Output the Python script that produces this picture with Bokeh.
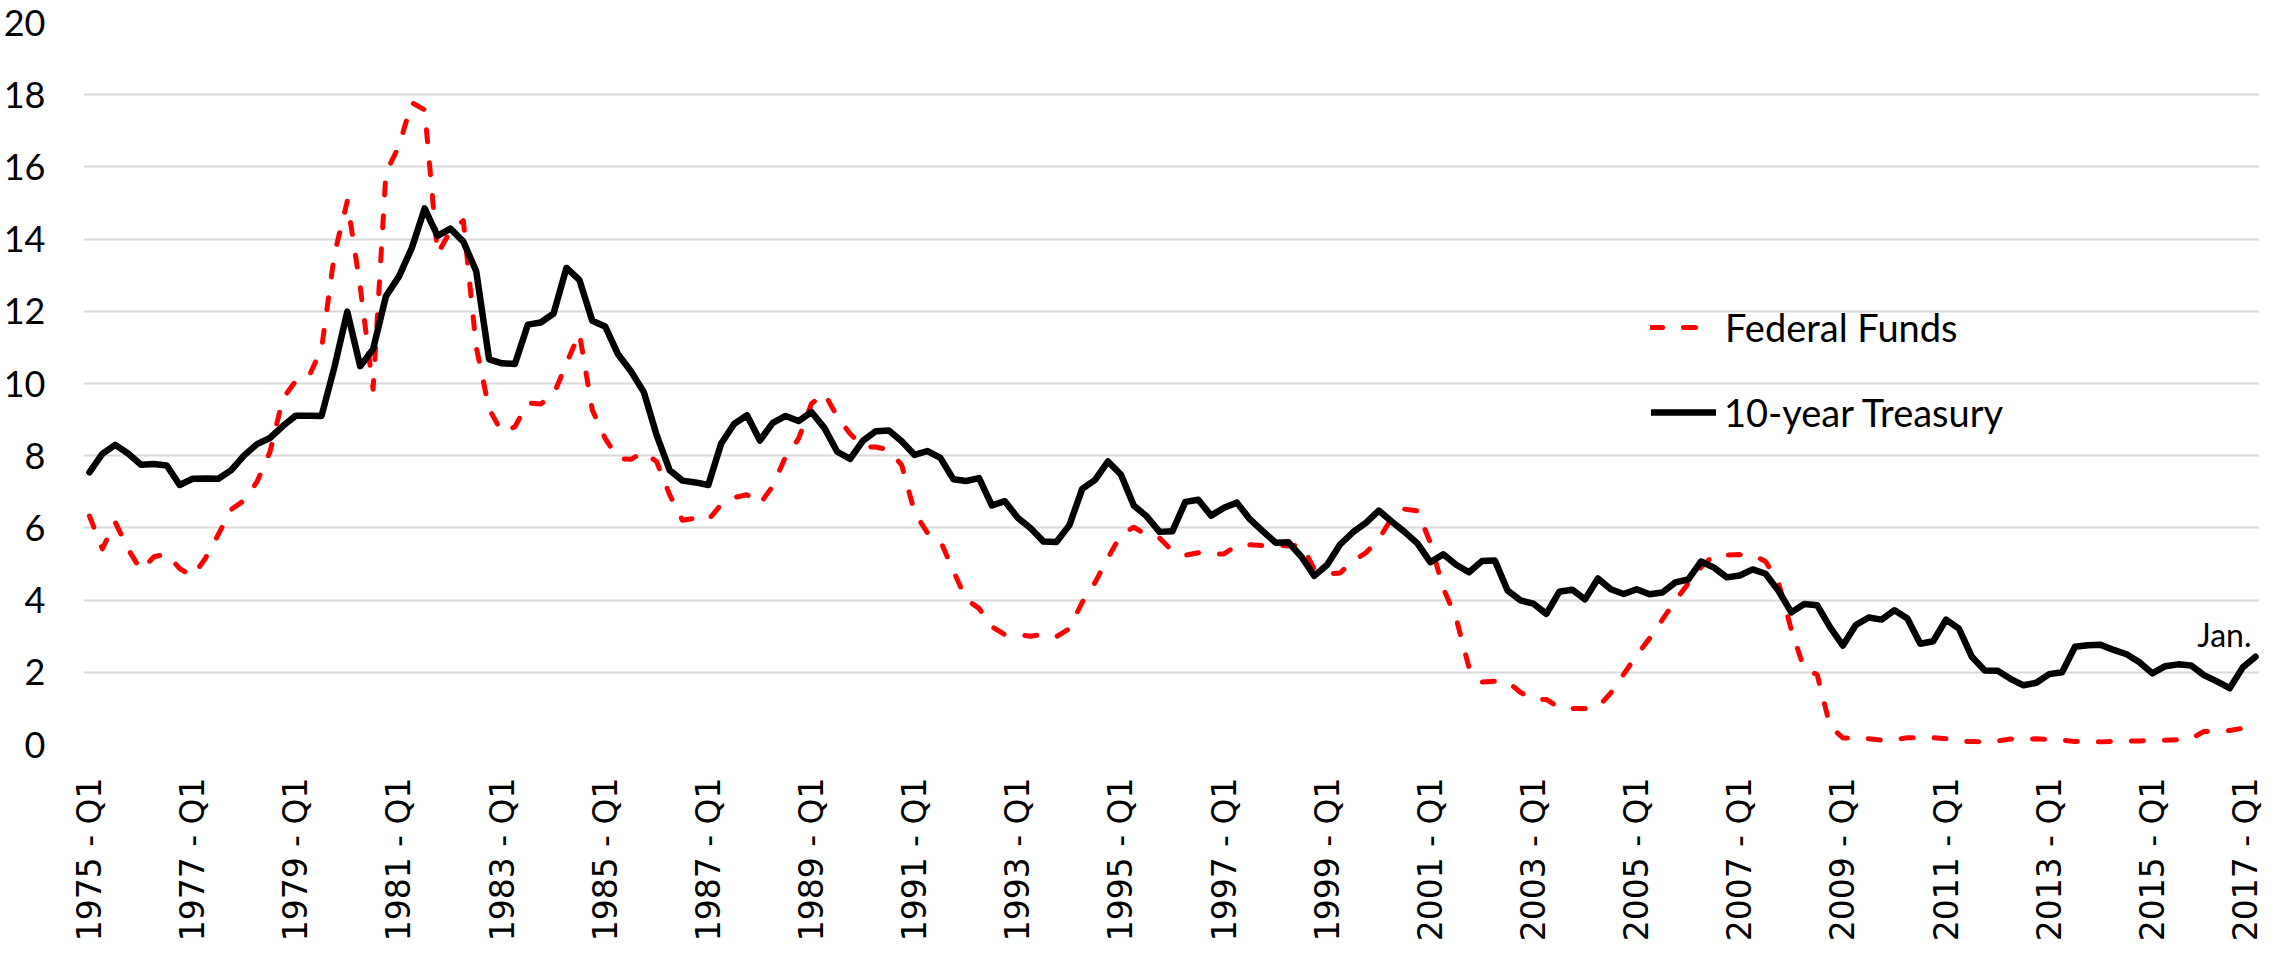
import math
from bokeh.plotting import figure
from bokeh.models import (Range1d, FixedTicker, Legend, LegendItem, Label,
                          ColumnDataSource)
from bokeh.embed import file_html
from bokeh.resources import INLINE

# ---------------- data ----------------
quarters = [f"{y} - Q{q}" for y in range(1975, 2017) for q in (1, 2, 3, 4)] + ["2017 - Q1"]

fed_funds = [
    6.33, 5.42, 6.16, 5.41,   # 1975
    4.83, 5.20, 5.28, 4.87,   # 1976
    4.66, 5.16, 5.82, 6.51,   # 1977
    6.76, 7.28, 8.10, 9.58,   # 1978
    10.07, 10.18, 10.95, 13.58,  # 1979
    15.05, 12.69, 9.84, 15.85,   # 1980
    16.57, 17.78, 17.58, 13.59,  # 1981
    14.23, 14.51, 11.01, 9.29,   # 1982
    8.65, 8.80, 9.46, 9.43,   # 1983
    9.69, 10.56, 11.39, 9.27,  # 1984
    8.48, 7.92, 7.90, 8.10,   # 1985
    7.83, 6.92, 6.21, 6.27,   # 1986
    6.22, 6.65, 6.84, 6.92,   # 1987
    6.66, 7.16, 7.98, 8.47,   # 1988
    9.44, 9.73, 9.08, 8.61,   # 1989
    8.25, 8.24, 8.16, 7.74,   # 1990
    6.43, 5.86, 5.64, 4.82,   # 1991
    4.02, 3.77, 3.26, 3.04,   # 1992
    3.04, 3.00, 3.06, 2.99,   # 1993
    3.21, 3.94, 4.49, 5.17,   # 1994
    5.81, 6.02, 5.80, 5.72,   # 1995
    5.36, 5.24, 5.31, 5.28,   # 1996
    5.28, 5.52, 5.53, 5.51,   # 1997
    5.52, 5.50, 5.53, 4.86,   # 1998
    4.73, 4.75, 5.09, 5.31,   # 1999
    5.68, 6.27, 6.52, 6.47,   # 2000
    5.59, 4.33, 3.50, 2.13,   # 2001
    1.73, 1.75, 1.74, 1.44,   # 2002
    1.25, 1.25, 1.02, 1.00,   # 2003
    1.00, 1.03, 1.43, 1.95,   # 2004
    2.47, 2.94, 3.46, 3.98,   # 2005
    4.46, 4.91, 5.25, 5.25,   # 2006
    5.26, 5.25, 5.07, 4.50,   # 2007
    3.18, 2.09, 1.94, 0.51,   # 2008
    0.18, 0.18, 0.16, 0.12,   # 2009
    0.13, 0.19, 0.19, 0.19,   # 2010
    0.16, 0.09, 0.08, 0.07,   # 2011
    0.10, 0.15, 0.14, 0.16,   # 2012
    0.14, 0.12, 0.08, 0.09,   # 2013
    0.07, 0.09, 0.09, 0.10,   # 2014
    0.11, 0.12, 0.13, 0.16,   # 2015
    0.36, 0.37, 0.39, 0.45,   # 2016
    0.65,                     # 2017 Jan.
]

treasury_10y = [
    7.54, 8.05, 8.30, 8.06,   # 1975
    7.75, 7.77, 7.73, 7.19,   # 1976
    7.36, 7.37, 7.36, 7.60,   # 1977
    8.01, 8.32, 8.49, 8.82,   # 1978
    9.11, 9.11, 9.10, 10.45,  # 1979
    11.99, 10.48, 10.95, 12.42,  # 1980
    12.96, 13.75, 14.85, 14.09,  # 1981
    14.29, 13.93, 13.11, 10.67,  # 1982
    10.56, 10.54, 11.63, 11.69,  # 1983
    11.94, 13.20, 12.87, 11.74,  # 1984
    11.58, 10.81, 10.34, 9.76,   # 1985
    8.56, 7.60, 7.31, 7.26,   # 1986
    7.19, 8.34, 8.88, 9.12,   # 1987
    8.42, 8.91, 9.10, 8.96,   # 1988
    9.21, 8.77, 8.11, 7.91,   # 1989
    8.42, 8.68, 8.70, 8.40,   # 1990
    8.02, 8.13, 7.94, 7.35,   # 1991
    7.30, 7.38, 6.62, 6.74,   # 1992
    6.28, 5.99, 5.62, 5.61,   # 1993
    6.07, 7.08, 7.33, 7.84,   # 1994
    7.48, 6.62, 6.32, 5.89,   # 1995
    5.91, 6.72, 6.78, 6.34,   # 1996
    6.56, 6.70, 6.24, 5.91,   # 1997
    5.59, 5.60, 5.20, 4.67,   # 1998
    4.98, 5.54, 5.88, 6.14,   # 1999
    6.48, 6.18, 5.89, 5.57,   # 2000
    5.05, 5.27, 4.98, 4.77,   # 2001
    5.08, 5.10, 4.26, 3.99,   # 2002
    3.90, 3.62, 4.23, 4.29,   # 2003
    4.02, 4.60, 4.30, 4.17,   # 2004
    4.30, 4.16, 4.21, 4.49,   # 2005
    4.57, 5.07, 4.90, 4.63,   # 2006
    4.68, 4.85, 4.73, 4.26,   # 2007
    3.66, 3.89, 3.86, 3.25,   # 2008
    2.74, 3.31, 3.52, 3.46,   # 2009
    3.72, 3.49, 2.79, 2.86,   # 2010
    3.46, 3.21, 2.43, 2.05,   # 2011
    2.04, 1.82, 1.64, 1.71,   # 2012
    1.95, 2.00, 2.71, 2.75,   # 2013
    2.76, 2.62, 2.50, 2.28,   # 2014
    1.97, 2.17, 2.22, 2.19,   # 2015
    1.92, 1.75, 1.56, 2.13,   # 2016
    2.43,                     # 2017 Jan.
]

tick_labels = [
    "1975 - Q1", "1977 - Q1", "1979 - Q1", "1981 - Q1", "1983 - Q1", "1985 - Q1",
    "1987 - Q1", "1989 - Q1", "1991 - Q1", "1993 - Q1", "1995 - Q1", "1997 - Q1",
    "1999 - Q1", "2001 - Q1", "2003 - Q1", "2005 - Q1", "2007 - Q1", "2009 - Q1",
    "2011 - Q1", "2013 - Q1", "2015 - Q1", "2017 - Q1",
]
y_ticks = [0, 2, 4, 6, 8, 10, 12, 14, 16, 18, 20]

series_names = ["Federal Funds", "10-year Treasury"]
note_text = "Jan."

# ---------------- figure ----------------
n = len(quarters)
src = ColumnDataSource(dict(x=list(range(n)), ff=fed_funds, t10=treasury_10y))

p = figure(width=2264, height=944, output_backend="svg", toolbar_location=None,
           x_range=Range1d(-0.46, n - 1 + 0.31), y_range=Range1d(0, 20),
           min_border_left=74, min_border_right=5, min_border_top=22,
           min_border_bottom=190)
p.outline_line_color = None
p.background_fill_color = "white"
p.border_fill_color = "white"

p.xgrid.visible = False
p.ygrid.grid_line_color = "#d9d9d9"
p.ygrid.grid_line_width = 2
p.ygrid.ticker = FixedTicker(ticks=y_ticks)

# y axis
p.yaxis.ticker = FixedTicker(ticks=y_ticks)
p.yaxis.axis_line_color = None
p.yaxis.major_tick_line_color = None
p.yaxis.minor_tick_line_color = None
p.yaxis.major_label_text_font = "Lato"
p.yaxis.major_label_text_font_size = "36px"
p.yaxis.major_label_text_color = "black"
p.yaxis.major_label_standoff = 32

# x axis
tick_pos = [quarters.index(t) for t in tick_labels]
p.xaxis.ticker = FixedTicker(ticks=tick_pos)
p.xaxis.major_label_overrides = {i: t for i, t in zip(tick_pos, tick_labels)}
p.xaxis.major_label_orientation = math.pi / 2
p.xaxis.axis_line_color = None
p.xaxis.major_tick_line_color = None
p.xaxis.minor_tick_line_color = None
p.xaxis.major_label_text_font = "DejaVu Sans"
p.xaxis.major_label_text_font_size = "33px"
p.xaxis.major_label_text_color = "black"
p.xaxis.major_label_standoff = 27

r_ff = p.line("x", "ff", source=src, line_color="#ff0000", line_width=5,
              line_dash="12 21", line_cap="round", line_join="round")
r_t = p.line("x", "t10", source=src, line_color="black", line_width=6.5,
             line_cap="round", line_join="round")

common = dict(padding=0, margin=0, spacing=0, border_line_color=None,
              background_fill_alpha=0, label_text_font="Lato",
              label_text_font_size="38px", label_text_color="black",
              glyph_height=60, label_height=60)
leg1 = Legend(items=[LegendItem(label=series_names[0], renderers=[r_ff])],
              location=(1567, 387), glyph_width=50, label_standoff=25, **common)
leg2 = Legend(items=[LegendItem(label=series_names[1], renderers=[r_t])],
              location=(1568, 302), glyph_width=65, label_standoff=8, **common)
p.add_layout(leg1)
p.add_layout(leg2)

p.add_layout(Label(x=n - 1, y=3.06, x_offset=-4, text=note_text,
                   text_align="right", text_baseline="alphabetic",
                   text_font="Lato", text_font_size="32px", text_color="black"))

open("out.html", "w").write(file_html(p, INLINE))
